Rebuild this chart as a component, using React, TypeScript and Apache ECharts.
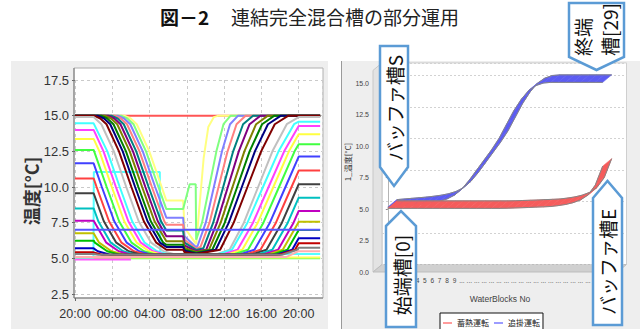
import React, { useEffect, useRef } from 'react';
import * as echarts from 'echarts';

// ---------------- Left chart: tank temperatures over one day ----------------
// x = hours elapsed since 20:00
const TIME_TICK_LABELS = ['20:00', '00:00', '04:00', '08:00', '12:00', '16:00', '20:00'];

const SUPPLY_LINE = [[0, 15.0], [26.3, 15.0]];
const RETURN_LINE = [[0, 7.0], [26.3, 7.0]];
const BOTTOM_GREEN = [[0, 5.0], [26.3, 5.0]];
const BOTTOM_YELLOW = [[0, 5.05], [26.3, 5.05]];
const BOTTOM_MAGENTA = [[0, 4.92], [6.0, 4.92]];
const BUFFER_CYAN = [[0, 5.05], [1.98, 5.05], [2.02, 11.05], [9.1, 11.05], [9.15, 5.3], [26.3, 5.3]];

const TANK_00 = [[0, 5.1], [2, 5.1], [22.7, 5.1], [24, 5.5], [26.3, 5.5]];
const TANK_01 = [[0, 5.3], [2, 5.3], [2.5, 5.25], [22.2, 5.25], [23.87, 5.6], [24, 5.75], [26.3, 5.75]];
const TANK_02 = [[0, 5.42], [2, 5.42], [2.9, 5.25], [21.94, 5.25], [23.61, 5.6], [24, 6.06], [26.3, 6.06]];
const TANK_03 = [[0, 5.7], [2, 5.7], [2.44, 5.5], [3.77, 5.25], [21.63, 5.25], [23.3, 5.6], [24, 6.41], [26.3, 6.41]];
const TANK_04 = [[0, 6.24], [2, 6.24], [2.13, 6.1], [3.46, 5.5], [4.79, 5.25], [21.12, 5.25], [22.79, 5.6], [24, 6.99], [26.3, 6.99]];
const TANK_05 = [[0, 6.76], [2, 6.76], [2.59, 6.1], [3.92, 5.5], [5.25, 5.25], [20.62, 5.25], [22.29, 5.6], [23.95, 7.5], [24, 7.57], [26.3, 7.57]];
const TANK_06 = [[0, 7.64], [2, 7.64], [3.36, 6.1], [4.69, 5.5], [6.02, 5.25], [20.12, 5.25], [21.79, 5.6], [23.45, 7.5], [24, 8.32], [26.3, 8.32]];
const TANK_07 = [[0, 8.5], [2, 8.5], [2.5, 7.6], [3.84, 6.1], [5.17, 5.5], [6.5, 5.25], [19.5, 5.25], [21.17, 5.6], [22.83, 7.5], [24, 9.25], [26.3, 9.25]];
const TANK_08 = [[0, 9.56], [2, 9.56], [3.09, 7.6], [4.43, 6.1], [5.76, 5.5], [7.09, 5.25], [18.87, 5.25], [20.54, 5.6], [22.2, 7.5], [23.87, 10], [24, 10.2], [26.3, 10.2]];
const TANK_09 = [[0, 10.6], [2, 10.6], [2.32, 10], [3.65, 7.6], [4.99, 6.1], [6.32, 5.5], [7.65, 5.25], [18.23, 5.25], [19.9, 5.6], [21.56, 7.5], [23.23, 10], [24, 11.15], [26.3, 11.15]];
const TANK_10 = [[0, 11.66], [2, 11.66], [2.88, 10], [4.21, 7.6], [5.55, 6.1], [6.88, 5.5], [8.21, 5.25], [17.58, 5.25], [19.25, 5.6], [20.91, 7.5], [22.58, 10], [24, 12.13], [26.3, 12.13]];
const TANK_11 = [[0, 12.6], [2, 12.6], [3.4, 10], [4.73, 7.6], [6.07, 6.1], [7.4, 5.5], [8.73, 5.25], [16.89, 5.25], [18.56, 5.6], [20.22, 7.5], [21.89, 10], [23.56, 12.5], [24, 13.0], [26.3, 13.0]];
const TANK_12 = [[0, 13.37], [2, 13.37], [2.62, 12.5], [3.95, 10], [5.28, 7.6], [6.62, 6.1], [7.95, 5.5], [9.28, 5.25], [16.28, 5.25], [17.95, 5.6], [19.61, 7.5], [21.28, 10], [22.95, 12.5], [24, 13.7], [26.3, 13.7]];
const TANK_13 = [[0, 14.0], [2, 14.0], [3.06, 12.5], [4.39, 10], [5.72, 7.6], [7.06, 6.1], [8.39, 5.5], [9.72, 5.25], [15.77, 5.25], [17.44, 5.6], [19.1, 7.5], [20.77, 10], [22.44, 12.5], [24, 14.28], [26.3, 14.28]];
const TANK_14 = [[0, 14.46], [2, 14.46], [3.47, 12.5], [4.8, 10], [6.13, 7.6], [7.47, 6.1], [8.8, 5.5], [10.13, 5.25], [15.17, 5.25], [16.84, 5.6], [18.5, 7.5], [20.17, 10], [21.84, 12.5], [23.5, 14.4], [24, 14.58], [26.3, 14.58]];
const TANK_15 = [[0, 14.9], [2, 14.9], [2.83, 14.4], [4.17, 12.5], [5.5, 10], [6.83, 7.6], [8.17, 6.1], [9.5, 5.5], [10.83, 5.25], [15.05, 5.25], [16.58, 5.6], [18.12, 7.5], [19.65, 10], [21.18, 12.5], [22.72, 14.4], [24, 14.9], [26.3, 14.9]];
const TANK_16 = [[0, 15], [2.05, 15], [2.72, 14.8], [3.38, 14.4], [4.72, 12.5], [6.05, 10], [7.38, 7.6], [8.72, 6.1], [9.8, 5.6], [11.6, 5.6], [11.75, 5.43], [13, 5.3], [15.57, 5.6], [17.03, 7.5], [18.5, 10], [19.97, 12.5], [21.43, 14.4], [22.9, 15], [26.3, 15]];
const TANK_17 = [[0, 15], [2.45, 15], [3.12, 14.8], [3.78, 14.4], [5.12, 12.5], [6.45, 10], [7.78, 7.6], [9.12, 6.1], [9.8, 5.8], [11.6, 5.8], [11.75, 5.53], [13, 5.32], [15.1, 5.6], [16.5, 7.5], [17.9, 10], [19.3, 12.5], [20.7, 14.4], [22.1, 15], [26.3, 15]];
const TANK_18 = [[0, 15], [2.8, 15], [3.47, 14.8], [4.13, 14.4], [5.47, 12.5], [6.8, 10], [8.13, 7.6], [9.47, 6.1], [9.8, 5.95], [11.6, 5.95], [11.75, 5.6], [13, 5.39], [14.73, 5.6], [16.07, 7.5], [17.4, 10], [18.73, 12.5], [20.07, 14.4], [21.4, 15], [26.3, 15]];
const TANK_19 = [[0, 15], [3.2, 15], [3.87, 14.8], [4.53, 14.4], [5.87, 12.5], [7.2, 10], [8.53, 7.6], [9.8, 6.2], [11.6, 6.2], [11.75, 5.73], [13, 5.44], [14.37, 5.6], [15.63, 7.5], [16.9, 10], [18.17, 12.5], [19.43, 14.4], [20.7, 15], [26.3, 15]];
const TANK_20 = [[0, 15], [3.55, 15], [4.22, 14.8], [4.88, 14.4], [6.22, 12.5], [7.55, 10], [8.88, 7.6], [9.8, 6.55], [11.6, 6.55], [11.75, 5.9], [13, 5.51], [14.07, 5.6], [15.23, 7.5], [16.4, 10], [17.57, 12.5], [18.73, 14.4], [19.9, 15], [26.3, 15]];
const TANK_21 = [[0, 15], [3.9, 15], [4.57, 14.8], [5.23, 14.4], [6.57, 12.5], [7.9, 10], [9.23, 7.6], [9.8, 6.95], [11.6, 6.95], [11.75, 6.1], [13, 5.59], [13.77, 5.7], [14.83, 7.5], [15.9, 10], [16.97, 12.5], [18.03, 14.4], [19.1, 15], [26.3, 15]];
const TANK_22 = [[0, 15], [4.25, 15], [4.92, 14.8], [5.58, 14.4], [6.92, 12.5], [8.25, 10], [9.58, 7.6], [9.8, 7.35], [11.6, 7.35], [11.75, 6.3], [13, 5.67], [13.47, 5.8], [14.43, 7.5], [15.4, 10], [16.37, 12.5], [17.33, 14.4], [18.3, 15], [26.3, 15]];
const TANK_23 = [[0, 15], [4.6, 15], [5.27, 14.8], [5.93, 14.4], [7.27, 12.5], [8.6, 10], [9.8, 7.85], [11.6, 7.85], [11.75, 6.55], [13, 5.77], [13.17, 5.9], [14.03, 7.5], [14.9, 10], [15.77, 12.5], [16.63, 14.4], [17.5, 15], [26.3, 15]];
const TANK_24 = [[0, 15], [4.95, 15], [5.62, 14.8], [6.28, 14.4], [7.62, 12.5], [8.95, 10], [9.8, 8.45], [11.6, 8.45], [12.3, 10.2], [12.95, 10.2], [13.0, 6.3], [13.63, 7.5], [14.4, 10], [15.17, 12.5], [15.93, 14.4], [16.7, 15], [26.3, 15]];
const TANK_25 = [[0, 15], [5.3, 15], [5.97, 14.8], [6.63, 14.4], [7.97, 12.5], [9.3, 10], [9.8, 9.05], [11.6, 9.05], [11.75, 7.15], [13, 6.0], [13.4, 9.0], [13.8, 12.0], [14.3, 14.2], [14.9, 14.9], [15.4, 15], [26.3, 15]];

const TANKS = [TANK_00, TANK_01, TANK_02, TANK_03, TANK_04, TANK_05, TANK_06, TANK_07, TANK_08, TANK_09,
  TANK_10, TANK_11, TANK_12, TANK_13, TANK_14, TANK_15, TANK_16, TANK_17, TANK_18, TANK_19,
  TANK_20, TANK_21, TANK_22, TANK_23, TANK_24, TANK_25];
const TANK_COLORS = ['#FFAFAF', '#808080', '#C00000', '#0000C0', '#00C000', '#C0C000', '#C000C0', '#00C0C0',
  '#404040', '#FF4040', '#4040FF', '#40FF40', '#FFFF40', '#FF40FF', '#40FFFF', '#C0C0C0', '#800000',
  '#000080', '#008000', '#808000', '#800080', '#008080', '#FF8080', '#8080FF', '#80FF80', '#FFFF80'];

// ---------------- Right chart: temperature profile along the water blocks ----------------
const BLOCKS = [0, 1, 2, 3, 4, 5, 6, 7, 8, 9, 10, 11, 12, 13, 14, 15, 16, 17, 18, 19, 20, 21, 22, 23, 24, 25, 26, 27, 28, 29];
const STORE_TEMPS = [5.05, 5.05, 5.05, 5.05, 5.05, 5.05, 5.05, 5.05, 5.05, 5.05, 5.05, 5.05, 5.05, 5.05, 5.05,
  5.05, 5.06, 5.08, 5.1, 5.12, 5.15, 5.17, 5.2, 5.27, 5.36, 5.5, 5.72, 6.1, 6.9, 8.4];
const CHASE_TEMPS = [5.15, 5.2, 5.25, 5.3, 5.35, 5.42, 5.5, 5.62, 5.8, 6.1, 6.6, 7.3, 8.1, 8.9, 9.7, 10.6,
  11.7, 12.8, 13.7, 14.4, 14.8, 15.0, 15.05, 15.05, 15.05, 15.05, 15.05, 15.05, 15.05, 15.05];
const LEGEND_NAMES = ['蓄熱運転', '追掛運転'];

const NUM_FONT = "'Liberation Sans Narrow', 'Liberation Sans', Arial, sans-serif";
const SANS_FONT = "'Liberation Sans', Arial, sans-serif";
const JP_FONT = "'Noto Sans CJK JP', sans-serif";

const DX = 9;
const DY = 7.5;
const CALLOUT = '#5b9bd5';

function ribbon(color: string) {
  return (_params: any, api: any) => {
    const p0 = api.coord([api.value(0), api.value(1)]);
    const p1 = api.coord([api.value(2), api.value(3)]);
    return {
      type: 'polygon',
      shape: { points: [p0, p1, [p1[0] + DX, p1[1] - DY], [p0[0] + DX, p0[1] - DY]] },
      style: { fill: color, stroke: color, lineWidth: 0.6 },
    };
  };
}

function segments(temps: number[]) {
  return temps.slice(0, -1).map((v, i) => [BLOCKS[i], v, BLOCKS[i + 1], temps[i + 1]]);
}

function vtext(text: string, x: number, y: number, fontSize: number, extra: any = {}) {
  return {
    type: 'text', x, y, rotation: Math.PI / 2, z: 60,
    style: {
      text, fill: '#111', fontSize, fontFamily: JP_FONT,
      textAlign: 'center', textVerticalAlign: 'middle', align: 'center', verticalAlign: 'middle',
      ...extra,
    },
  };
}

function callout(points: number[][]) {
  return {
    type: 'polygon', z: 50,
    shape: { points },
    style: { fill: '#ffffff', stroke: CALLOUT, lineWidth: 2.5 },
  };
}

function buildOption() {
  const leftList: [string, number[][]][] = [
    ['#FF5555', SUPPLY_LINE],
    ['#55FF55', BOTTOM_GREEN],
    ['#FFFF55', BOTTOM_YELLOW],
    ['#FF55FF', BOTTOM_MAGENTA],
    ['#55FFFF', BUFFER_CYAN],
  ];
  for (let i = TANKS.length - 1; i >= 0; i--) leftList.push([TANK_COLORS[i], TANKS[i]]);
  leftList.push(['#5555FF', RETURN_LINE]);

  const leftSeries = leftList.map(([color, pts], i) => ({
    type: 'line', name: 'L' + i, xAxisIndex: 0, yAxisIndex: 0, data: pts,
    symbol: 'none', silent: true, z: 2,
    lineStyle: { color, width: 2 }, itemStyle: { color },
  }));

  const profile = (temps: number[]) => BLOCKS.map((b, i) => [b, temps[i]]);
  const edge = (name: string, temps: number[], axis: number, z: number) => ({
    type: 'line', name, xAxisIndex: axis, yAxisIndex: axis, data: profile(temps),
    symbol: 'none', silent: true, z, lineStyle: { color: '#858585', width: 1 },
  });

  const rightSeries = [
    {
      type: 'custom', name: LEGEND_NAMES[1], xAxisIndex: 1, yAxisIndex: 1, data: segments(CHASE_TEMPS),
      encode: { x: [0, 2], y: [1, 3] }, renderItem: ribbon('#5c5cf2'), itemStyle: { color: '#5c5cf2' }, z: 3,
    },
    edge('_cf', CHASE_TEMPS, 1, 4),
    edge('_cb', CHASE_TEMPS, 2, 4),
    {
      type: 'custom', name: LEGEND_NAMES[0], xAxisIndex: 1, yAxisIndex: 1, data: segments(STORE_TEMPS),
      encode: { x: [0, 2], y: [1, 3] }, renderItem: ribbon('#f55c5c'), itemStyle: { color: '#f55c5c' }, z: 5,
    },
    edge('_sf', STORE_TEMPS, 1, 6),
    edge('_sb', STORE_TEMPS, 2, 6),
  ];

  const fTop = 70.4, fH = 201.6, fL = 373, fW = 244.5;
  const bTop = fTop - DY, bL = fL + DX;

  return {
    animation: false,
    backgroundColor: '#ffffff',
    grid: [
      { left: 75, top: 80, width: 247, height: 214 },
      { left: fL, top: fTop, width: fW, height: fH },
      { left: bL, top: bTop, width: fW, height: fH },
    ],
    legend: {
      left: 440, top: 313, orient: 'horizontal',
      data: [
        { name: LEGEND_NAMES[0], icon: 'rect', itemStyle: { color: '#ff9c9c' } },
        { name: LEGEND_NAMES[1], icon: 'rect', itemStyle: { color: '#9c9cff' } },
      ],
      itemWidth: 9, itemHeight: 2, itemGap: 5,
      textStyle: { fontSize: 8, color: '#222', fontFamily: JP_FONT },
      borderColor: '#111', borderWidth: 1, padding: [6, 3, 8, 3], backgroundColor: '#ffffff',
      selectedMode: false,
    },
    xAxis: [
      {
        gridIndex: 0, type: 'value', min: 0, max: 26.5, interval: 4, offset: 4,
        axisLine: { show: false },
        axisTick: { show: true, length: 3, lineStyle: { color: '#666' } },
        axisLabel: {
          margin: 9, fontSize: 12.5, color: '#333', fontFamily: NUM_FONT, showMaxLabel: false,
          formatter: (v: number) => TIME_TICK_LABELS[Math.round(v / 4)] ?? '',
        },
        splitLine: { show: true, lineStyle: { color: '#cacaca', type: [3, 3], width: 1 } },
      },
      {
        gridIndex: 1, type: 'value', min: -2, max: 31, interval: 1,
        axisLine: { show: false }, axisTick: { show: false }, splitLine: { show: false },
        axisLabel: {
          margin: 5, fontSize: 6.5, color: '#444', fontFamily: SANS_FONT,
          formatter: (v: number) => (v >= 0 && v <= 9 ? String(v) : v >= 10 && v <= 29 ? '...' : ''),
        },
      },
      { gridIndex: 2, type: 'value', min: -2, max: 31, show: false },
    ],
    yAxis: [
      {
        gridIndex: 0, type: 'value', min: 2.5, max: 17.5, interval: 2.5,
        axisLine: { show: false },
        axisTick: { show: true, length: 3, lineStyle: { color: '#666' } },
        axisLabel: {
          margin: 6, fontSize: 13, color: '#333', fontFamily: NUM_FONT,
          formatter: (v: number) => v.toFixed(1),
        },
        splitLine: { show: true, lineStyle: { color: '#cacaca', type: [3, 3], width: 1 } },
      },
      {
        gridIndex: 1, type: 'value', min: 0, max: 16, interval: 2.5,
        axisLine: { show: true, lineStyle: { color: '#b5b5b5' } },
        axisTick: { show: true, length: 2, lineStyle: { color: '#888' } },
        axisLabel: {
          margin: 4, fontSize: 7, color: '#444', fontFamily: SANS_FONT, showMaxLabel: false,
          formatter: (v: number) => v.toFixed(1),
        },
        splitLine: { show: false },
      },
      {
        gridIndex: 2, type: 'value', min: 0, max: 16, interval: 2.5,
        axisLine: { show: false }, axisTick: { show: false }, axisLabel: { show: false },
        splitLine: { show: true, lineStyle: { color: '#d2d2d2', type: [2, 2], width: 1 } },
      },
    ],
    graphic: [
      // panel backgrounds
      { type: 'rect', z: -10, shape: { x: 11, y: 61, width: 317, height: 270 }, style: { fill: '#eeeeee' } },
      { type: 'rect', z: -10, shape: { x: 341, y: 61, width: 300, height: 270 }, style: { fill: '#eeeeee' } },
      { type: 'line', z: -9, shape: { x1: 341.5, y1: 61, x2: 341.5, y2: 330 }, style: { stroke: '#9a9a9a', lineWidth: 1 } },
      // left plot area
      { type: 'rect', z: -8, shape: { x: 74, y: 68, width: 249, height: 230 }, style: { fill: '#ffffff', stroke: '#b0b0b0', lineWidth: 1 } },
      { type: 'line', z: 1, shape: { x1: 74, y1: 68, x2: 74, y2: 298 }, style: { stroke: '#777', lineWidth: 1 } },
      { type: 'line', z: 1, shape: { x1: 74, y1: 298, x2: 323, y2: 298 }, style: { stroke: '#777', lineWidth: 1 } },
      // 3D walls of right plot
      { type: 'rect', z: -8, shape: { x: bL, y: bTop, width: fW, height: fH }, style: { fill: '#ffffff', stroke: '#cfcfcf', lineWidth: 1 } },
      {
        type: 'polygon', z: -7,
        shape: { points: [[fL, fTop], [bL, bTop], [bL, bTop + fH], [fL, fTop + fH]] },
        style: { fill: '#e3e3e3', stroke: '#c8c8c8', lineWidth: 1 },
      },
      {
        type: 'polygon', z: -7,
        shape: { points: [[fL, fTop + fH], [bL, bTop + fH], [bL + fW, bTop + fH], [fL + fW, fTop + fH]] },
        style: { fill: '#d0d0d0', stroke: '#bdbdbd', lineWidth: 1 },
      },
      // title
      {
        type: 'text', x: 160, y: 16, z: 60,
        style: { text: '図－2', fill: '#111', fontSize: 19, fontWeight: 'bold', fontFamily: JP_FONT, textAlign: 'left', textVerticalAlign: 'middle', align: 'left', verticalAlign: 'middle' },
      },
      {
        type: 'text', x: 231, y: 16, z: 60,
        style: { text: '連結完全混合槽の部分運用', fill: '#222', fontSize: 19, fontFamily: JP_FONT, textAlign: 'left', textVerticalAlign: 'middle', align: 'left', verticalAlign: 'middle' },
      },
      // axis names
      vtext('温度[°C]', 31, 191, 18, { fontWeight: 'bold', fill: '#333' }),
      vtext('1_温度[°C]', 347, 162, 8, { fill: '#333' }),
      {
        type: 'text', x: 500, y: 299, z: 60,
        style: { text: 'WaterBlocks No', fill: '#444', fontSize: 8.5, fontFamily: SANS_FONT, textAlign: 'center', textVerticalAlign: 'middle', align: 'center', verticalAlign: 'middle' },
      },
      // callouts
      callout([[380, 46], [408, 46], [408, 167], [394, 186], [380, 167]]),
      vtext('バッファ槽S', 394, 108, 19),
      callout([[386, 226], [401, 211], [416, 226], [416, 327], [386, 327]]),
      vtext('始端槽[0]', 401, 275, 19),
      callout([[593, 198], [607.5, 181], [622, 198], [622, 325], [593, 325]]),
      vtext('バッファ槽E', 607.5, 262, 19),
      callout([[569, 3], [624, 3], [624, 57], [596.5, 70], [569, 57]]),
      vtext('終端\n槽[29]', 596, 56, 19, { textAlign: 'left', align: 'left', lineHeight: 27 }),
    ],
    series: [...leftSeries, ...rightSeries],
  };
}

export default function App() {
  const ref = useRef<HTMLDivElement>(null);
  useEffect(() => {
    if (!ref.current) return;
    const chart = echarts.init(ref.current, undefined, { renderer: 'svg' });
    chart.setOption(buildOption() as any);
    return () => chart.dispose();
  }, []);
  return <div ref={ref} style={{ position: 'fixed', left: 0, top: 0, width: 640, height: 329 }} />;
}
